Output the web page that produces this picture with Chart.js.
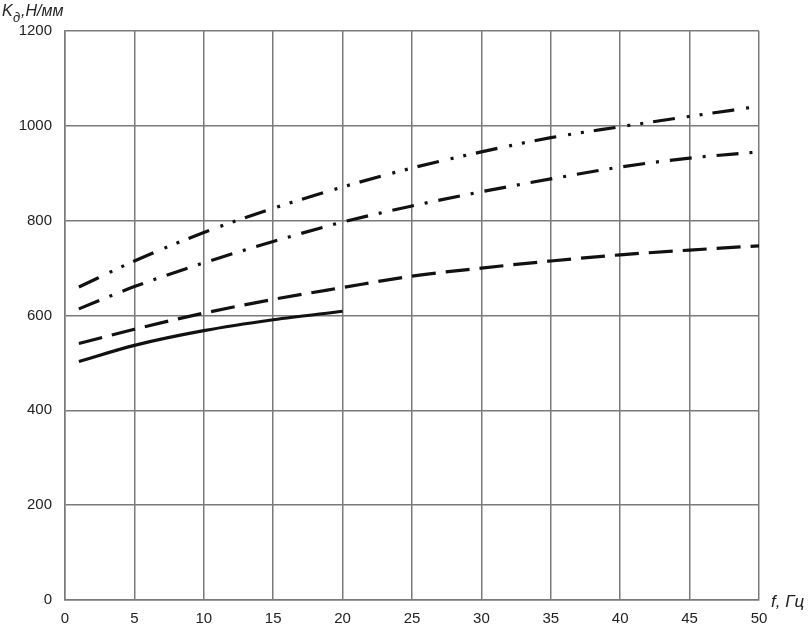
<!DOCTYPE html>
<html lang="ru">
  <head>
    <meta charset="UTF-8" />
    <title>Kд от f</title>
    <script src="https://cdn.jsdelivr.net/npm/chart.js"></script>
    <style>
      html, body { margin: 0; padding: 0; background: #fff; }
      #wrap { width: 810px; height: 625px; }
    </style>
  </head>
  <body>
    <div id="wrap"><canvas id="myChart"></canvas></div>

    <script>
      // частота, Гц
      const freq = [1, 5, 10, 15, 20, 25, 30, 35, 40, 45, 50];
      const freqShort = [1, 5, 10, 15, 20];
      const freqTop = [1, 5, 10, 15, 20, 25, 30, 35, 40, 45, 49.5];

      // жёсткость Kд, Н/мм
      const curveSolid = [503, 537, 568, 591, 609];
      const curveDash = [541, 571, 605, 634, 659, 683, 700, 715, 728, 738, 747];
      const curveDashDot = [614, 661, 711, 756, 797, 831, 861, 888, 913, 932, 945];
      const curveDashDotDot = [660, 715, 775, 826, 871, 911, 945, 975, 998, 1020, 1039];

      const yTicks = [0, 200, 400, 600, 800, 1000, 1200];
      const xTicks = [0, 5, 10, 15, 20, 25, 30, 35, 40, 45, 50];

      const toPts = (xs, ys) => ys.map((y, i) => ({ x: xs[i], y: y }));

      function lineSet(xs, ys, dash) {
        return {
          data: toPts(xs, ys),
          borderColor: "#111",
          borderWidth: 3.2,
          borderDash: dash,
          borderCapStyle: "butt",
          pointRadius: 0,
          cubicInterpolationMode: "monotone",
          fill: false,
        };
      }

      // подписи осей (с индексом у K)
      const axisTitles = {
        id: "axisTitles",
        afterDraw(chart) {
          const ctx = chart.ctx;
          ctx.save();
          ctx.fillStyle = "#222";
          ctx.textBaseline = "alphabetic";
          ctx.font = "italic 16px 'Liberation Sans', Arial, sans-serif";
          ctx.fillText("K", 2, 16);
          ctx.font = "italic 13px 'Liberation Sans', Arial, sans-serif";
          ctx.fillText("д", 13, 22);
          ctx.font = "italic 16px 'Liberation Sans', Arial, sans-serif";
          ctx.fillText(",Н/мм", 21, 16);
          ctx.font = "italic 17px 'Liberation Sans', Arial, sans-serif";
          ctx.fillText("f, Гц", 771, 607);
          ctx.restore();
        },
      };

      const tickFont = { size: 15, family: "'Liberation Sans', Arial, sans-serif" };

      const ctx = document.getElementById("myChart").getContext("2d");
      new Chart(ctx, {
        type: "line",
        data: {
          datasets: [
            lineSet(freqShort, curveSolid, []),
            lineSet(freq, curveDash, [24, 10]),
            lineSet(freq, curveDashDot, [22, 11, 3, 11]),
            lineSet(freqTop, curveDashDotDot, [22, 12, 3, 10, 3, 10]),
          ],
        },
        options: {
          responsive: true,
          maintainAspectRatio: false,
          animation: false,
          layout: { padding: { top: 31, right: 51, left: 0, bottom: 0 } },
          plugins: { legend: { display: false }, tooltip: { enabled: false } },
          scales: {
            x: {
              type: "linear",
              min: 0,
              max: 50,
              afterBuildTicks: (s) => { s.ticks = xTicks.map((v) => ({ value: v })); },
              afterFit: (s) => { s.height = 25; },
              grid: { color: "#7a7a7a", lineWidth: 1.5, drawTicks: false },
              border: { color: "#7a7a7a", width: 1.5 },
              ticks: {
                padding: 10,
                color: "#222",
                font: tickFont,
                maxRotation: 0,
                callback: (v) => String(v),
              },
            },
            y: {
              min: 0,
              max: 1200,
              afterBuildTicks: (s) => { s.ticks = yTicks.map((v) => ({ value: v })); },
              afterFit: (s) => { s.width = 65; },
              grid: { color: "#7a7a7a", lineWidth: 1.5, drawTicks: false },
              border: { color: "#7a7a7a", width: 1.5 },
              ticks: {
                padding: 13,
                color: "#222",
                font: tickFont,
                callback: (v) => String(v),
              },
            },
          },
        },
        plugins: [axisTitles],
      });
    </script>
  </body>
</html>
